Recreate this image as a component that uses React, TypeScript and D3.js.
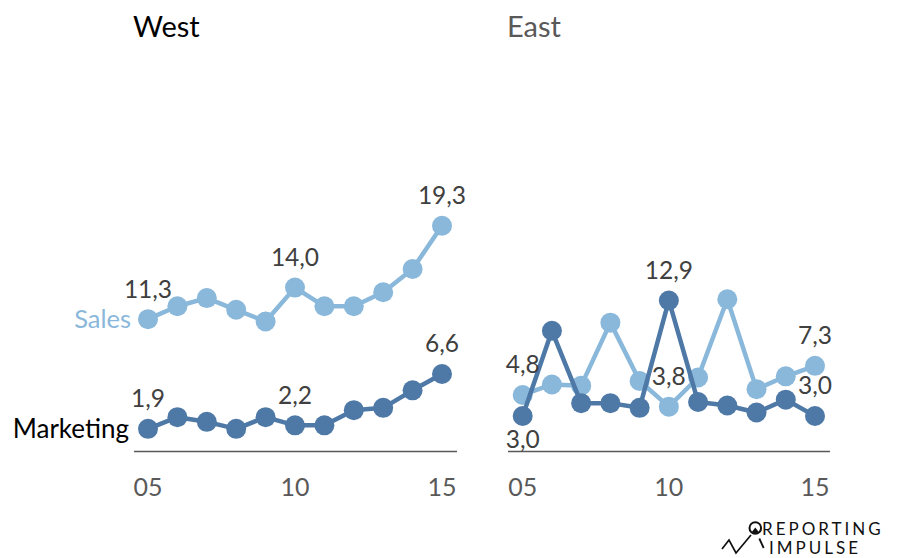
import React from "react";
import * as d3 from "d3";

const years = [5, 6, 7, 8, 9, 10, 11, 12, 13, 14, 15];
const tickYears = [5, 10, 15];
const westSales = [11.3, 12.4, 13.1, 12.1, 11.1, 14.0, 12.4, 12.4, 13.6, 15.6, 19.3];
const westMarketing = [1.9, 2.9, 2.5, 1.9, 2.9, 2.2, 2.2, 3.5, 3.7, 5.2, 6.6];
const eastSales = [4.8, 5.7, 5.6, 11.0, 6.0, 3.8, 6.3, 13.0, 5.3, 6.4, 7.3];
const eastMarketing = [3.0, 10.3, 4.1, 4.1, 3.7, 12.9, 4.2, 3.9, 3.3, 4.4, 3.0];
const labelIdx = [0, 5, 10];
const eastMarketingBelow = [0];

const LIGHT = "#8AB8DB";
const DARK = "#4E79A7";
const FONT = "Lato, 'Open Sans', sans-serif";

const fmt = (v: number) => d3.format(".1f")(v).replace(".", ",");

const y = d3.scaleLinear().domain([0, 20]).range([451, 217.6]);

function Panel({
  title, titleColor, x0, x1, axisX0, axisX1, sales, marketing, below, showLegend,
}: any) {
  const x = d3.scaleLinear().domain([5, 15]).range([x0, x1]);
  const line = d3.line<number>().x((_, i) => x(years[i])).y((d) => y(d));
  const series = [
    { vals: sales, color: LIGHT, below: [] as number[] },
    { vals: marketing, color: DARK, below },
  ];
  return (
    <g>
      <text x={axisX0 - 1} y={37} fontSize={29} fill={titleColor} fontFamily={FONT}>{title}</text>
      <line x1={axisX0} x2={axisX1} y1={451.5} y2={451.5} stroke="#595959" strokeWidth={1.5} />
      {tickYears.map((t) => (
        <text key={t} x={x(t)} y={496} textAnchor="middle" fontSize={25} fill="#595959" fontFamily={FONT}>
          {d3.format("02d")(t)}
        </text>
      ))}
      {series.map((s, si) => (
        <g key={si}>
          <path d={line(s.vals) || ""} fill="none" stroke={s.color} strokeWidth={4.5} strokeLinejoin="round" />
          {s.vals.map((v: number, i: number) => (
            <circle key={i} cx={x(years[i])} cy={y(v)} r={10} fill={s.color} />
          ))}
        </g>
      ))}
      {series.map((s, si) =>
        labelIdx.map((i) => {
          const isBelow = s.below.includes(i);
          return (
            <text key={si + "-" + i} x={x(years[i])} y={y(s.vals[i]) + (isBelow ? 32 : -21.5)}
              textAnchor="middle" fontSize={24.5} fill="#404040" fontFamily={FONT}>
              {fmt(s.vals[i])}
            </text>
          );
        })
      )}
      {showLegend && (
        <g>
          <text x={x0 - 17} y={y(sales[0]) + 9} textAnchor="end" fontSize={25.5} fill={LIGHT} fontFamily={FONT}>Sales</text>
          <text x={x0 - 19} y={y(marketing[0]) + 9} textAnchor="end" fontSize={26} fill="#000" fontFamily={FONT}>Marketing</text>
        </g>
      )}
    </g>
  );
}

function Logo() {
  return (
    <g>
      <polyline points="722,549 729,540 736,553 751,535" fill="none" stroke="#111" strokeWidth={1.7} strokeLinejoin="miter" />
      <circle cx={755.3} cy={528} r={5.8} fill="none" stroke="#111" strokeWidth={2} />
      <path d="M751,533 L755.3,527.5 L759.6,533 Z" fill="#111" />
      <line x1={759.3} y1={538.5} x2={763.7} y2={548} stroke="#111" strokeWidth={1.8} />
      <text x={762} y={535} fontSize={17} fill="#111" fontFamily={FONT} fontWeight={400} letterSpacing={3}>REPORTING</text>
      <text x={769} y={554} fontSize={17} fill="#111" fontFamily={FONT} fontWeight={400} letterSpacing={3}>IMPULSE</text>
    </g>
  );
}

export default function App() {
  return (
    <svg width={897} height={558} style={{ position: "absolute", left: 0, top: 0, background: "#fff" }}>
      <rect width={897} height={558} fill="#fff" />
      <Panel title="West" titleColor="#000" x0={148} x1={442} axisX0={134} axisX1={457}
        sales={westSales} marketing={westMarketing} below={[]} showLegend={true} />
      <Panel title="East" titleColor="#595959" x0={522.7} x1={815} axisX0={508} axisX1={830}
        sales={eastSales} marketing={eastMarketing} below={eastMarketingBelow} showLegend={false} />
      <Logo />
    </svg>
  );
}
